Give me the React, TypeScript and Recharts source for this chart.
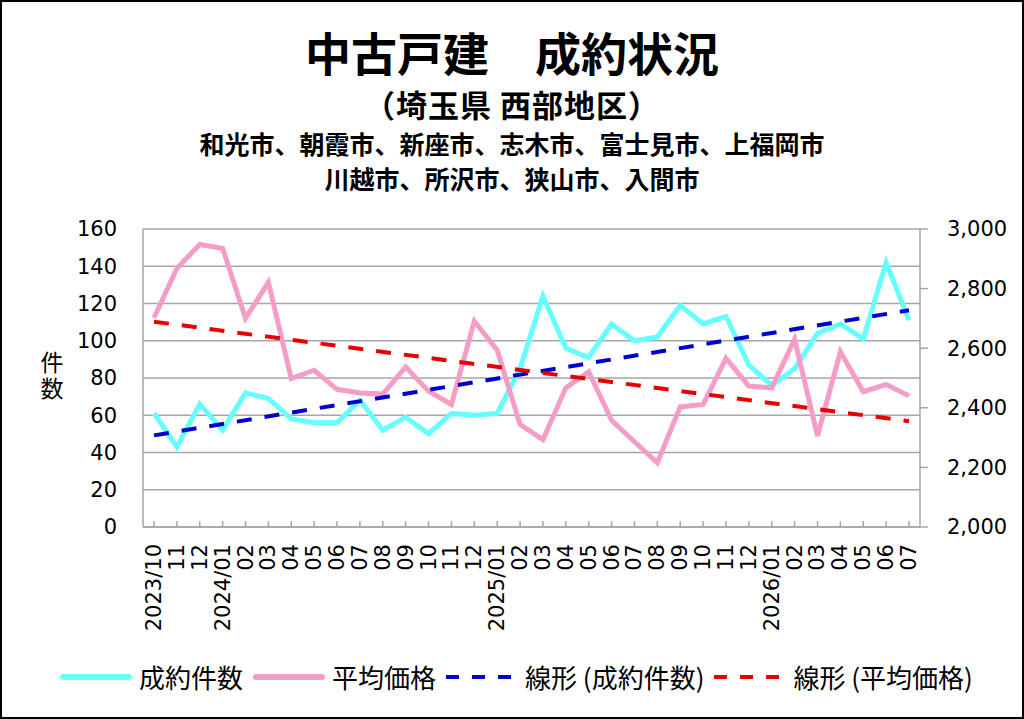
import React from 'react';
import {
  ComposedChart, Line, XAxis, YAxis, CartesianGrid,
} from 'recharts';

// 2023/10 - 2026/07
const months = [
  '2023/10', '11', '12',
  '2024/01', '02', '03', '04', '05', '06', '07', '08', '09', '10', '11', '12',
  '2025/01', '02', '03', '04', '05', '06', '07', '08', '09', '10', '11', '12',
  '2026/01', '02', '03', '04', '05', '06', '07',
];

// 成約件数 (left axis)
const counts = [
  61, 43, 66, 52, 72, 69, 58, 56, 56, 68,
  52, 59, 50, 61, 60, 61, 85, 124, 96, 91,
  109, 100, 102, 119, 109, 113, 87, 76, 85, 104,
  109, 101, 142, 111,
];

// 平均価格 (right axis, 万円)
const prices = [
  2702, 2868, 2948, 2935, 2700, 2821, 2498, 2526, 2462, 2450,
  2446, 2537, 2456, 2411, 2691, 2593, 2344, 2293, 2467, 2521,
  2358, 2286, 2216, 2403, 2411, 2566, 2473, 2467, 2630, 2306,
  2588, 2454, 2478, 2440,
];

// trend line end points (first month, last month)
const countTrendEnds = [49.2, 116.4];
const priceTrendEnds = [2689, 2355];

const leftTicks = [0, 20, 40, 60, 80, 100, 120, 140, 160];
const rightTicks = [2000, 2200, 2400, 2600, 2800, 3000];

const last = months.length - 1;
const data = months.map((m, i) => ({
  month: m,
  count: counts[i],
  price: prices[i],
  countTrend: i === 0 ? countTrendEnds[0] : i === last ? countTrendEnds[1] : null,
  priceTrend: i === 0 ? priceTrendEnds[0] : i === last ? priceTrendEnds[1] : null,
}));

const FONT = '"Noto Sans CJK JP", "Noto Sans", sans-serif';
const NUM_FONT = '"DejaVu Sans", sans-serif';
const CYAN = '#66FFFF';
const PINK = '#F59DC6';
const BLUE = '#0000CC';
const RED = '#E60000';
const GRID = '#A6A6A6';

const MonthTick = (props: any) => {
  const { x, y, payload } = props;
  const ty = y + 17;
  return (
    <g>
      <line x1={x} x2={x} y1={y} y2={y - 6} stroke={GRID} strokeWidth={1.5} />
      <text
        x={x}
        y={ty}
        transform={`rotate(-90 ${x} ${ty})`}
        textAnchor="end"
        dominantBaseline="central"
        fontSize={21}
        fontFamily={NUM_FONT}
        fill="#000"
      >
        {payload.value}
      </text>
    </g>
  );
};

const legendItems = [
  { label: '成約件数', color: CYAN, dashed: false },
  { label: '平均価格', color: PINK, dashed: false },
  { label: '線形 (成約件数)', color: BLUE, dashed: true },
  { label: '線形 (平均価格)', color: RED, dashed: true },
];

export default function App() {
  return (
    <div style={{ position: 'absolute', left: 0, top: 0, width: 1024, height: 719, background: '#fff', fontFamily: FONT }}>
      <div style={{ position: 'absolute', left: 0, top: 20, width: 1024, textAlign: 'center', fontSize: 46, fontWeight: 700, lineHeight: '62px' }}>
        中古戸建　成約状況
      </div>
      <div style={{ position: 'absolute', left: 0, top: 85, width: 1024, textAlign: 'center', fontSize: 31, fontWeight: 700, lineHeight: '38px', letterSpacing: 1 }}>
        （埼玉県 西部地区）
      </div>
      <div style={{ position: 'absolute', left: 0, top: 126, width: 1024, textAlign: 'center', fontSize: 25, fontWeight: 700, lineHeight: '34px' }}>
        和光市、朝霞市、新座市、志木市、富士見市、上福岡市
      </div>
      <div style={{ position: 'absolute', left: 0, top: 161, width: 1024, textAlign: 'center', fontSize: 25, fontWeight: 700, lineHeight: '34px' }}>
        川越市、所沢市、狭山市、入間市
      </div>
      <div style={{ position: 'absolute', left: 38, top: 351, width: 28, fontSize: 23, lineHeight: '28px', writingMode: 'vertical-rl', textOrientation: 'upright', letterSpacing: 3 }}>
        件数
      </div>

      <div style={{ position: 'absolute', left: 0, top: 0 }}>
        <ComposedChart width={1024} height={719} data={data} margin={{ top: 229, right: 0, bottom: 52, left: 0 }}>
          <CartesianGrid yAxisId="left" vertical={false} stroke={GRID} strokeWidth={1.5} />
          <XAxis
            dataKey="month"
            interval={0}
            height={140}
            padding={{ left: 11, right: 11 }}
            tickLine={false}
            tickSize={0}
            tickMargin={0}
            axisLine={{ stroke: GRID, strokeWidth: 1.5 }}
            tick={<MonthTick />}
          />
          <YAxis
            yAxisId="left"
            width={143}
            domain={[0, 160]}
            ticks={leftTicks}
            tickLine={false}
            tickSize={0}
            tickMargin={26}
            axisLine={{ stroke: GRID, strokeWidth: 1.5 }}
            tick={{ fontSize: 21, fill: '#000', fontFamily: NUM_FONT }}
          />
          <YAxis
            yAxisId="right"
            orientation="right"
            width={104}
            domain={[2000, 3000]}
            ticks={rightTicks}
            tickSize={8}
            tickMargin={19}
            tickLine={{ stroke: GRID, strokeWidth: 1.5 }}
            axisLine={{ stroke: GRID, strokeWidth: 1.5 }}
            tickFormatter={(v: number) => v.toLocaleString('en-US')}
            tick={{ fontSize: 21, fill: '#000', fontFamily: NUM_FONT }}
          />
          <Line yAxisId="left" type="linear" dataKey="count" stroke={CYAN} strokeWidth={5} dot={false} isAnimationActive={false} />
          <Line yAxisId="right" type="linear" dataKey="price" stroke={PINK} strokeWidth={5} dot={false} isAnimationActive={false} />
          <Line yAxisId="left" type="linear" dataKey="countTrend" stroke={BLUE} strokeWidth={4} strokeDasharray="15 13" connectNulls dot={false} isAnimationActive={false} />
          <Line yAxisId="right" type="linear" dataKey="priceTrend" stroke={RED} strokeWidth={4} strokeDasharray="15 13" connectNulls dot={false} isAnimationActive={false} />
        </ComposedChart>
      </div>

      <div style={{ position: 'absolute', left: 60, top: 659, height: 36, display: 'flex', alignItems: 'center' }}>
        {legendItems.map((it) => (
          <div key={it.label} style={{ display: 'flex', alignItems: 'center', marginRight: 10 }}>
            <svg width={72} height={10} style={{ marginRight: 7 }}>
              {it.dashed ? (
                <line x1={0} x2={72} y1={5} y2={5} stroke={it.color} strokeWidth={4} strokeDasharray="13 13" />
              ) : (
                <line x1={3} x2={69} y1={5} y2={5} stroke={it.color} strokeWidth={6} strokeLinecap="round" />
              )}
            </svg>
            <span style={{ fontSize: 26, lineHeight: '36px', whiteSpace: 'nowrap' }}>{it.label}</span>
          </div>
        ))}
      </div>

      <div style={{ position: 'absolute', left: 0, top: 0, width: 1024, height: 719, boxSizing: 'border-box', border: '2px solid #000', pointerEvents: 'none' }} />
    </div>
  );
}
